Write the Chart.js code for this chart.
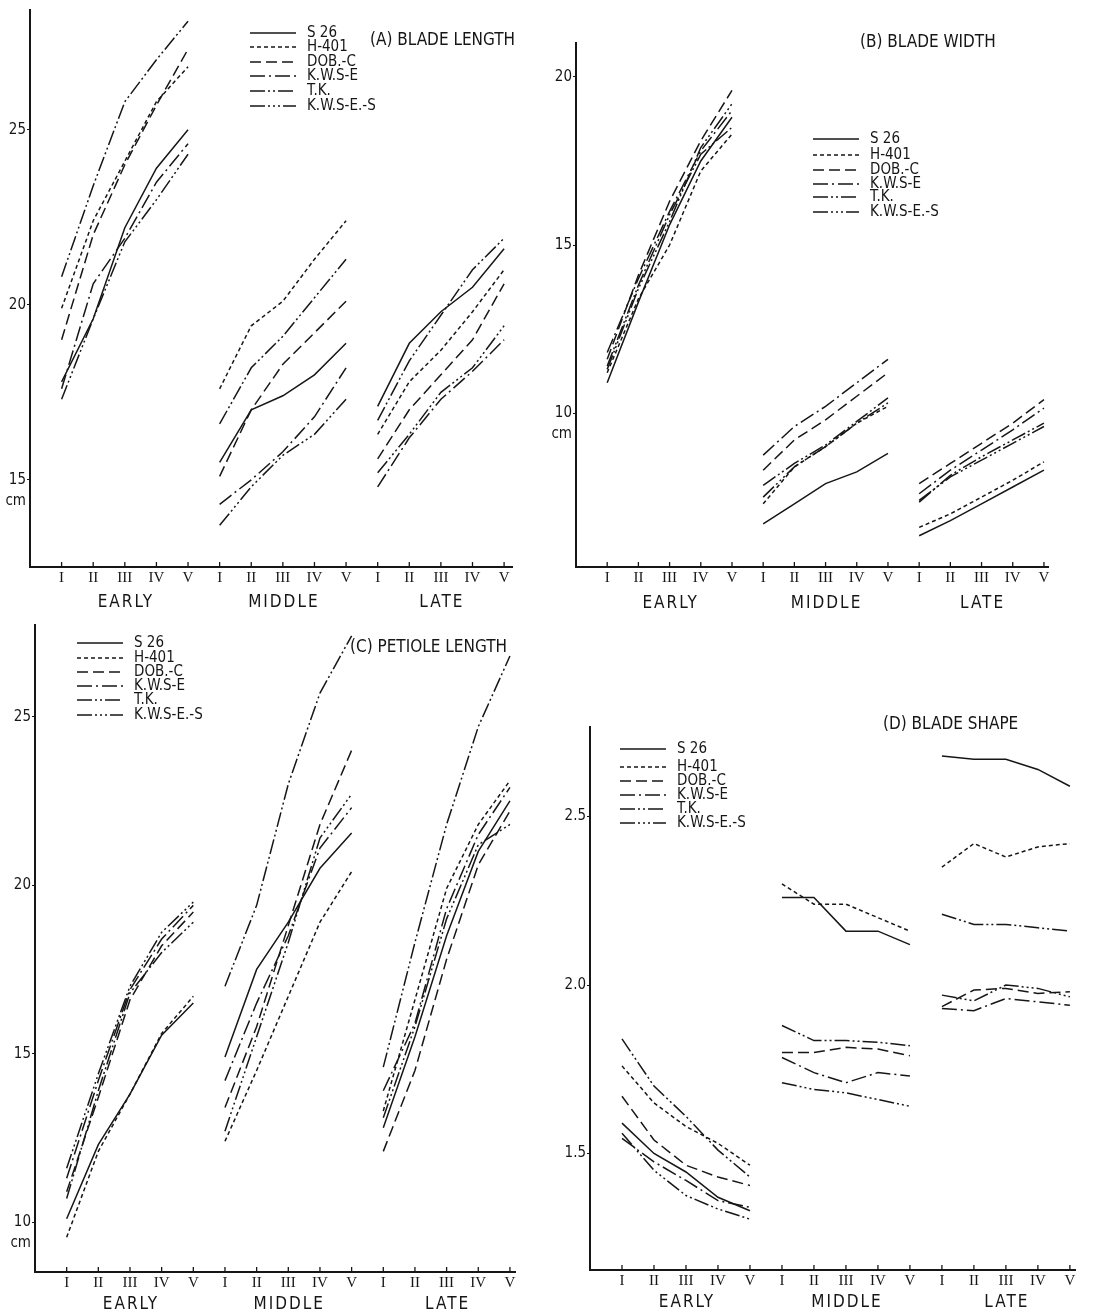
<!DOCTYPE html>
<html>
<head>
<meta charset="utf-8">
<script src="https://cdn.jsdelivr.net/npm/chart.js@4.4.1/dist/chart.umd.min.js"></script>
<style>
body { margin: 0; background: #fff; }
#wrap { position: relative; width: 1102px; height: 1315px; overflow: hidden; }
canvas { position: absolute; }
</style>
</head>
<body>
<div id="wrap">
<canvas id="chartA" width="551" height="615" style="left:0;top:0"></canvas>
<canvas id="chartB" width="551" height="615" style="left:551px;top:0"></canvas>
<canvas id="chartC" width="551" height="700" style="left:0;top:615px"></canvas>
<canvas id="chartD" width="551" height="700" style="left:551px;top:615px"></canvas>
</div>
<script>
// Labels
const seriesNames = ['S 26', 'H-401', 'DOB.-C', 'K.W.S-E', 'T.K.', 'K.W.S-E.-S'];
const leafTicks = ['I', 'II', 'III', 'IV', 'V'];
const stageNames = ['EARLY', 'MIDDLE', 'LATE'];

// One row per series (order as seriesNames), 15 values: EARLY I-V, MIDDLE I-V, LATE I-V
const bladeLength = [
    [17.8, 19.6, 22.2, 23.9, 25.0,  15.5, 17.0, 17.4, 18.0, 18.9,  17.1, 18.9, 19.8, 20.5, 21.6],
    [19.9, 22.4, 24.1, 25.8, 26.8,  17.6, 19.4, 20.1, 21.3, 22.4,  16.3, 17.8, 18.7, 19.8, 21.0],
    [19.0, 22.0, 24.0, 25.7, 27.3,  15.1, 17.0, 18.3, 19.2, 20.1,  15.6, 17.0, 18.0, 19.0, 20.6],
    [17.6, 20.6, 21.9, 23.5, 24.6,  14.3, 15.0, 15.8, 16.8, 18.2,  14.8, 16.2, 17.3, 18.1, 19.0],
    [20.8, 23.4, 25.8, 27.0, 28.1,  16.6, 18.2, 19.1, 20.2, 21.3,  16.7, 18.4, 19.7, 21.0, 21.9],
    [17.3, 19.6, 21.8, 23.0, 24.3,  13.7, 14.8, 15.7, 16.3, 17.3,  15.2, 16.3, 17.5, 18.2, 19.4]
];

const bladeWidth = [
    [10.9, 13.3, 15.6, 17.5, 18.8,  6.7, 7.3, 7.9, 8.25, 8.8,   6.35, 6.8, 7.3, 7.8, 8.3],
    [11.2, 13.4, 15.0, 17.2, 18.3,  7.3, 8.4, 9.0, 9.7, 10.2,   6.6, 7.0, 7.5, 8.0, 8.55],
    [11.6, 14.1, 16.3, 18.1, 19.6,  8.3, 9.2, 9.8, 10.5, 11.2,  7.9, 8.5, 9.1, 9.7, 10.4],
    [11.8, 14.0, 16.0, 17.8, 19.0,  8.75, 9.6, 10.2, 10.9, 11.6, 7.6, 8.3, 8.9, 9.5, 10.15],
    [11.4, 13.8, 15.9, 17.7, 18.5,  7.85, 8.5, 9.05, 9.75, 10.45, 7.35, 8.15, 8.7, 9.2, 9.7],
    [11.3, 13.7, 15.7, 17.9, 19.2,  7.5, 8.4, 9.0, 9.7, 10.3,   7.4, 8.1, 8.6, 9.1, 9.6]
];

const petioleLength = [
    [10.1, 12.3, 13.8, 15.55, 16.5,  14.9, 17.5, 18.9, 20.5, 21.55,  12.8, 15.5, 18.5, 21.0, 22.5],
    [9.55, 12.1, 13.8, 15.6, 16.7,   12.4, 14.5, 16.7, 18.9, 20.4,   13.3, 16.6, 19.9, 21.8, 23.1],
    [10.9, 13.7, 16.6, 18.2, 19.2,   13.4, 15.8, 18.8, 21.8, 24.0,   12.1, 14.5, 17.8, 20.6, 22.2],
    [11.3, 14.2, 16.9, 18.4, 19.4,   14.2, 16.5, 18.5, 21.1, 22.3,   13.9, 15.9, 19.3, 21.5, 22.9],
    [10.7, 13.9, 16.8, 18.0, 18.9,   17.0, 19.4, 23.0, 25.7, 27.4,   14.6, 18.3, 21.8, 24.7, 26.8],
    [11.6, 14.4, 17.0, 18.6, 19.5,   12.7, 15.5, 18.3, 21.4, 22.7,   13.1, 15.8, 19.0, 21.2, 21.8]
];

const bladeShape = [
    [1.59, 1.50, 1.445, 1.37, 1.33,   2.26, 2.26, 2.16, 2.16, 2.12,   2.68, 2.67, 2.67, 2.64, 2.59],
    [1.76, 1.65, 1.58, 1.53, 1.465,   2.30, 2.24, 2.24, 2.20, 2.16,   2.35, 2.42, 2.38, 2.41, 2.42],
    [1.67, 1.54, 1.465, 1.43, 1.405,  1.80, 1.80, 1.815, 1.81, 1.79,  1.936, 1.985, 1.99, 1.975, 1.98],
    [1.545, 1.475, 1.42, 1.36, 1.34,  1.785, 1.74, 1.71, 1.74, 1.73,  1.93, 1.924, 1.96, 1.95, 1.94],
    [1.84, 1.70, 1.61, 1.51, 1.43,    1.88, 1.835, 1.835, 1.83, 1.82, 2.21, 2.18, 2.18, 2.17, 2.16],
    [1.56, 1.45, 1.375, 1.335, 1.305, 1.71, 1.69, 1.68, 1.66, 1.64,   1.97, 1.953, 2.0, 1.99, 1.965]
];

const FONT = '"Liberation Sans Narrow", "DejaVu Sans Condensed", "Roboto", sans-serif';
const INK = '#161616';
const dashes = [[], [4, 3], [11, 5], [15, 4, 2, 4], [15, 3, 2, 3, 2, 3], [15, 3, 2, 3, 2, 3, 2, 3]];

// put a gap between the three stages so the lines break
function toPoints(vals) {
    const pts = [];
    vals.forEach((v, i) => {
        if (i > 0 && i % 5 === 0) pts.push({ x: i + 0.5, y: null });
        pts.push({ x: i + 1, y: v });
    });
    return pts;
}

// Draws the bits Chart.js has no option for: inward ticks, stage names, cm, title, legend
const panelDeco = {
    id: 'panelDeco',
    afterDraw(chart, args, o) {
        const ctx = chart.ctx;
        const xs = chart.scales.x;
        const ys = chart.scales.y;
        const area = chart.chartArea;
        ctx.save();
        ctx.strokeStyle = INK;
        ctx.fillStyle = INK;
        ctx.lineWidth = 1.3;
        for (let i = 1; i <= 15; i++) {
            const px = xs.getPixelForValue(i);
            ctx.beginPath();
            ctx.moveTo(px, area.bottom);
            ctx.lineTo(px, area.bottom - 5);
            ctx.stroke();
        }
        ctx.font = '17px ' + FONT;
        ctx.letterSpacing = '2px';
        ctx.textAlign = 'center';
        ctx.textBaseline = 'middle';
        stageNames.forEach((s, k) => ctx.fillText(s, xs.getPixelForValue(k * 5 + 3) + 1, area.bottom + o.stageOffset));
        ctx.letterSpacing = '0px';

        if (o.cmAt != null) {
            ctx.textAlign = 'right';
            ctx.font = '15px ' + FONT;
            ctx.fillText('cm', area.left - 4, ys.getPixelForValue(o.cmAt) + 21);
        }

        ctx.textAlign = 'left';
        ctx.font = '17px ' + FONT;
        ctx.fillText(o.title, o.titleX, o.titleY);

        ctx.font = '15px ' + FONT;
        chart.data.datasets.forEach((ds, i) => {
            const y = o.legendRows[i];
            ctx.setLineDash(ds.borderDash);
            ctx.lineWidth = 1.6;
            ctx.beginPath();
            ctx.moveTo(o.legendX, y);
            ctx.lineTo(o.legendX + 46, y);
            ctx.stroke();
            ctx.setLineDash([]);
            ctx.fillText(ds.label, o.legendX + 57, y);
        });
        ctx.restore();
    }
};

function makePanel(canvasId, rows, o) {
    const ctx = document.getElementById(canvasId).getContext('2d');
    new Chart(ctx, {
        type: 'line',
        data: {
            datasets: rows.map((vals, i) => ({
                label: seriesNames[i],
                data: toPoints(vals),
                borderColor: INK,
                borderWidth: 1.5,
                borderDash: dashes[i],
                pointRadius: 0,
                tension: 0,
                fill: false
            }))
        },
        options: {
            responsive: false,
            animation: false,
            events: [],
            layout: { padding: { top: o.top, right: o.right, left: 0, bottom: 0 } },
            plugins: {
                legend: { display: false },
                tooltip: { enabled: false },
                panelDeco: o
            },
            scales: {
                x: {
                    type: 'linear',
                    min: 0,
                    max: o.xMax,
                    afterFit: s => { s.height = o.bottomH; },
                    afterBuildTicks: s => { s.ticks = Array.from({ length: 15 }, (_, i) => ({ value: i + 1 })); },
                    grid: { display: false },
                    border: { color: INK, width: 2 },
                    ticks: {
                        callback: v => leafTicks[(v - 1) % 5],
                        font: { family: '"Liberation Serif", serif', size: 15 },
                        color: INK,
                        padding: -6,
                        maxRotation: 0,
                        autoSkip: false
                    }
                },
                y: {
                    min: o.yMin,
                    max: o.yMax,
                    afterFit: s => { s.width = o.left; },
                    afterBuildTicks: s => { s.ticks = o.yTicks.map(v => ({ value: v })); },
                    grid: { drawOnChartArea: false, tickLength: 3, color: INK },
                    border: { color: INK, width: 2 },
                    ticks: {
                        callback: v => o.decimals ? v.toFixed(1) : v,
                        font: { family: FONT, size: 15 },
                        color: INK,
                        padding: 1
                    }
                }
            }
        },
        plugins: [panelDeco]
    });
}

makePanel('chartA', bladeLength, {
    left: 30, right: 39, top: 7, bottomH: 48, xMax: 15.25,
    yMin: 12.51, yMax: 28.42, yTicks: [15, 20, 25], cmAt: 15, stageOffset: 36,
    title: '(A) BLADE LENGTH', titleX: 370, titleY: 41,
    legendX: 250, legendRows: [33, 47, 62, 76, 91, 106]
});
makePanel('chartB', bladeWidth, {
    left: 25, right: 54, top: 43, bottomH: 48, xMax: 15.13,
    yMin: 5.42, yMax: 21.01, yTicks: [10, 15, 20], cmAt: 10, stageOffset: 37,
    title: '(B) BLADE WIDTH', titleX: 309, titleY: 43,
    legendX: 262, legendRows: [139, 155, 170, 184, 197, 212]
});
makePanel('chartC', petioleLength, {
    left: 35, right: 36, top: 10, bottomH: 43, xMax: 15.16,
    yMin: 8.52, yMax: 27.72, yTicks: [10, 15, 20, 25], cmAt: 10, stageOffset: 33,
    title: '(C) PETIOLE LENGTH', titleX: 350, titleY: 33,
    legendX: 77, legendRows: [28, 43, 57, 71, 85, 100]
});
makePanel('chartD', bladeShape, {
    left: 39, right: 27, top: 112, bottomH: 45, xMax: 15.16,
    yMin: 1.154, yMax: 2.766, yTicks: [1.5, 2.0, 2.5], cmAt: null, decimals: true, stageOffset: 33,
    title: '(D) BLADE SHAPE', titleX: 332, titleY: 110,
    legendX: 69, legendRows: [134, 152, 166, 180, 194, 208]
});
</script>
</body>
</html>
